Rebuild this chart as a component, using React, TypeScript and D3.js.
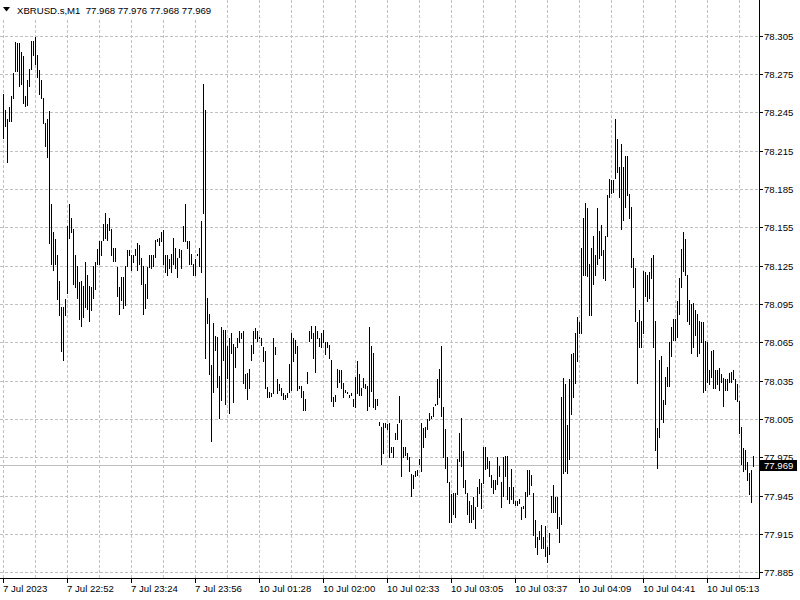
import React from 'react';
import * as d3 from 'd3';

const symbolTitle = 'XBRUSD.s,M1';
const lastOHLC = ['77.968', '77.976', '77.968', '77.969'];
const lastPrice = 77.969;

const priceTicks = [78.305, 78.275, 78.245, 78.215, 78.185, 78.155, 78.125, 78.095, 78.065, 78.035, 78.005, 77.975, 77.945, 77.915, 77.885];

const timeLabels = ['7 Jul 2023', '7 Jul 22:52', '7 Jul 23:24', '7 Jul 23:56', '10 Jul 01:28', '10 Jul 02:00', '10 Jul 02:33', '10 Jul 03:05', '10 Jul 03:37', '10 Jul 04:09', '10 Jul 04:41', '10 Jul 05:13'];

const highs = [
  78.259, 78.247, 78.240, 78.249, 78.258, 78.276, 78.300, 78.299, 78.299, 78.292,
  78.289, 78.258, 78.270, 78.279, 78.301, 78.301, 78.304, 78.290, 78.278, 78.270,
  78.256, 78.237, 78.240, 78.246, 78.173, 78.151, 78.146, 78.133, 78.113, 78.093,
  78.093, 78.099, 78.156, 78.173, 78.162, 78.154, 78.133, 78.125, 78.112, 78.113,
  78.109, 78.128, 78.118, 78.109, 78.108, 78.125, 78.128, 78.138, 78.144, 78.144,
  78.158, 78.166, 78.158, 78.162, 78.154, 78.139, 78.139, 78.124, 78.108, 78.116,
  78.116, 78.125, 78.137, 78.137, 78.133, 78.133, 78.138, 78.143, 78.141, 78.131,
  78.125, 78.111, 78.124, 78.133, 78.133, 78.133, 78.145, 78.146, 78.147, 78.151,
  78.153, 78.133, 78.133, 78.130, 78.134, 78.147, 78.139, 78.131, 78.138, 78.137,
  78.156, 78.173, 78.144, 78.144, 78.134, 78.126, 78.130, 78.134, 78.139, 78.160,
  78.267, 78.247, 78.100, 78.087, 78.047, 78.080, 78.070, 78.069, 78.039, 78.077,
  78.075, 78.075, 78.062, 78.068, 78.072, 78.064, 78.061, 78.068, 78.074, 78.072,
  78.074, 78.040, 78.041, 78.044, 78.063, 78.074, 78.076, 78.074, 78.069, 78.068,
  78.061, 78.058, 78.030, 78.026, 78.025, 78.068, 78.061, 78.036, 78.032, 78.029,
  78.025, 78.024, 78.025, 78.048, 78.072, 78.068, 78.067, 78.062, 78.031, 78.031,
  78.027, 78.021, 78.042, 78.074, 78.078, 78.072, 78.078, 78.074, 78.068, 78.072,
  78.075, 78.065, 78.065, 78.063, 78.051, 78.022, 78.024, 78.044, 78.043, 78.043,
  78.033, 78.028, 78.026, 78.024, 78.025, 78.021, 78.038, 78.050, 78.040, 78.029,
  78.037, 78.032, 78.031, 78.077, 78.062, 78.057, 78.021, 78.021, 78.003, 77.999,
  78.002, 78.002, 78.001, 78.002, 77.983, 77.983, 77.994, 78.001, 78.023, 78.004,
  77.983, 77.983, 77.978, 77.975, 77.962, 77.961, 77.964, 77.965, 77.974, 78.002,
  77.998, 77.999, 78.005, 78.010, 78.007, 78.014, 78.017, 78.036, 78.044, 78.062,
  78.014, 77.997, 77.975, 77.956, 77.946, 77.947, 77.947, 77.974, 77.994, 78.006,
  77.980, 77.957, 77.947, 77.941, 77.938, 77.944, 77.936, 77.952, 77.958, 77.955,
  77.983, 77.983, 77.975, 77.972, 77.961, 77.957, 77.957, 77.975, 77.968, 77.956,
  77.975, 77.976, 77.976, 77.952, 77.966, 77.952, 77.941, 77.941, 77.942, 77.936,
  77.937, 77.948, 77.965, 77.965, 77.961, 77.947, 77.926, 77.913, 77.917, 77.922,
  77.913, 77.921, 77.905, 77.916, 77.945, 77.953, 77.944, 77.944, 77.928, 78.022,
  78.037, 78.032, 78.000, 78.036, 78.056, 78.057, 78.072, 78.085, 78.081, 78.139,
  78.162, 78.174, 78.170, 78.126, 78.139, 78.148, 78.133, 78.170, 78.152, 78.157,
  78.137, 78.148, 78.180, 78.193, 78.192, 78.192, 78.240, 78.224, 78.202, 78.220,
  78.202, 78.211, 78.211, 78.181, 78.171, 78.131, 78.123, 78.081, 78.090, 78.082,
  78.121, 78.120, 78.118, 78.120, 78.131, 78.133, 78.082, 77.998, 78.051, 78.054,
  78.020, 78.038, 78.046, 78.065, 78.077, 78.083, 78.083, 78.097, 78.115, 78.138,
  78.151, 78.146, 78.118, 78.098, 78.095, 78.096, 78.090, 78.087, 78.082, 78.081,
  78.081, 78.066, 78.065, 78.043, 78.058, 78.059, 78.043, 78.043, 78.045, 78.040,
  78.037, 78.036, 78.036, 78.041, 78.042, 78.043, 78.036, 78.032, 78.019, 77.999,
  77.982, 77.981, 77.971, 77.963, 77.965, 77.976,
];

const lows = [
  78.225, 78.234, 78.206, 78.238, 78.238, 78.256, 78.277, 78.277, 78.266, 78.267,
  78.252, 78.250, 78.251, 78.266, 78.279, 78.290, 78.283, 78.273, 78.259, 78.256,
  78.237, 78.219, 78.210, 78.143, 78.126, 78.122, 78.126, 78.099, 78.086, 78.058,
  78.051, 78.086, 78.104, 78.147, 78.151, 78.111, 78.108, 78.100, 78.083, 78.078,
  78.085, 78.093, 78.091, 78.082, 78.090, 78.100, 78.107, 78.126, 78.126, 78.133,
  78.145, 78.147, 78.145, 78.153, 78.133, 78.129, 78.129, 78.101, 78.087, 78.098,
  78.092, 78.094, 78.125, 78.133, 78.122, 78.128, 78.133, 78.122, 78.126, 78.111,
  78.087, 78.092, 78.100, 78.124, 78.123, 78.125, 78.132, 78.144, 78.141, 78.144,
  78.126, 78.120, 78.118, 78.123, 78.120, 78.126, 78.123, 78.116, 78.132, 78.123,
  78.144, 78.144, 78.139, 78.126, 78.126, 78.118, 78.118, 78.133, 78.125, 78.120,
  78.166, 78.053, 78.080, 78.040, 77.988, 78.026, 78.059, 78.030, 78.006, 78.020,
  78.051, 78.017, 78.037, 78.010, 78.057, 78.018, 78.046, 78.061, 78.065, 78.068,
  78.033, 78.029, 78.021, 78.029, 78.051, 78.057, 78.068, 78.066, 78.068, 78.063,
  78.050, 78.029, 78.022, 78.022, 78.023, 78.025, 78.056, 78.025, 78.028, 78.024,
  78.021, 78.021, 78.022, 78.026, 78.028, 78.050, 78.057, 78.028, 78.029, 78.022,
  78.012, 78.012, 78.033, 78.066, 78.068, 78.053, 78.042, 78.068, 78.062, 78.061,
  78.065, 78.056, 78.061, 78.053, 78.019, 78.015, 78.019, 78.030, 78.034, 78.029,
  78.022, 78.026, 78.025, 78.022, 78.024, 78.015, 78.014, 78.025, 78.024, 78.024,
  78.030, 78.029, 78.012, 78.015, 78.027, 78.014, 78.013, 78.016, 78.000, 77.970,
  77.978, 77.999, 77.997, 77.975, 77.979, 77.975, 77.989, 77.989, 78.003, 77.960,
  77.975, 77.977, 77.974, 77.964, 77.945, 77.951, 77.960, 77.961, 77.970, 77.964,
  77.983, 77.991, 77.997, 78.004, 78.006, 78.007, 78.016, 78.017, 78.022, 78.007,
  77.975, 77.967, 77.956, 77.924, 77.924, 77.931, 77.928, 77.946, 77.972, 77.968,
  77.952, 77.947, 77.931, 77.924, 77.924, 77.927, 77.920, 77.937, 77.947, 77.935,
  77.955, 77.966, 77.967, 77.960, 77.952, 77.947, 77.950, 77.954, 77.960, 77.936,
  77.945, 77.960, 77.942, 77.939, 77.942, 77.939, 77.938, 77.938, 77.939, 77.927,
  77.935, 77.928, 77.945, 77.946, 77.953, 77.914, 77.905, 77.899, 77.911, 77.904,
  77.904, 77.898, 77.893, 77.899, 77.932, 77.932, 77.932, 77.920, 77.909, 77.923,
  77.963, 77.964, 77.963, 77.974, 78.009, 78.022, 78.033, 78.050, 78.072, 78.072,
  78.118, 78.118, 78.117, 78.086, 78.086, 78.111, 78.118, 78.126, 78.131, 78.133,
  78.115, 78.114, 78.148, 78.179, 78.182, 78.183, 78.194, 78.198, 78.179, 78.154,
  78.161, 78.171, 78.180, 78.162, 78.124, 78.108, 78.082, 78.033, 78.061, 78.061,
  78.072, 78.101, 78.097, 78.100, 78.115, 78.061, 77.981, 77.967, 77.991, 78.005,
  78.003, 78.017, 78.031, 78.031, 78.054, 78.067, 78.067, 78.069, 78.087, 78.108,
  78.121, 78.118, 78.082, 78.079, 78.057, 78.061, 78.071, 78.054, 78.057, 78.065,
  78.026, 78.028, 78.034, 78.032, 78.038, 78.029, 78.029, 78.032, 78.028, 78.034,
  78.015, 78.028, 78.028, 78.034, 78.034, 78.036, 78.021, 78.019, 77.994, 77.970,
  77.964, 77.966, 77.957, 77.946, 77.940, 77.968,
];

const FONT = '"Liberation Sans", Arial, sans-serif';

export default function App() {
  const W = 800;
  const H = 600;
  const plotRight = 759;
  const plotBottom = 578;
  const n = highs.length;

  const y = d3.scaleLinear().domain([77.885, 78.305]).range([572.3, 35.7]);
  const x = d3.scaleLinear().domain([0, n - 1]).range([3, 3 + 2 * (n - 1)]);

  const gridIdx = d3.range(0, n, 16);
  const labelIdx = d3.range(0, n, 32);
  const grid = '#c0c0c0';

  const lastY = Math.round(y(lastPrice));

  return (
    <svg
      width={W}
      height={H}
      style={{ position: 'absolute', left: 0, top: 0, background: '#fff' }}
      fontFamily={FONT}
    >
      <rect x={0} y={0} width={W} height={H} fill="#fff" />
      {/* grid */}
      <g shapeRendering="crispEdges" stroke={grid} strokeWidth={1} strokeDasharray="3,2">
        {priceTicks.map((t) => (
          <line key={'h' + t} x1={0} x2={plotRight} y1={Math.round(y(t)) + 0.5} y2={Math.round(y(t)) + 0.5} />
        ))}
        {gridIdx.map((i) => (
          <line key={'v' + i} x1={x(i) + 0.5} x2={x(i) + 0.5} y1={0} y2={plotBottom} />
        ))}
      </g>
      {/* current price line */}
      <line x1={0} x2={plotRight} y1={lastY + 0.5} y2={lastY + 0.5} stroke={grid} strokeWidth={1} shapeRendering="crispEdges" />
      {/* bars */}
      <g fill="#000" shapeRendering="crispEdges">
        {highs.map((h, i) => {
          const yh = Math.round(y(h));
          const yl = Math.round(y(lows[i]));
          return <rect key={i} x={Math.round(x(i))} y={yh} width={1} height={Math.max(1, yl - yh + 1)} />;
        })}
      </g>
      {/* title */}
      <rect x={0} y={0} width={207} height={19} fill="#fff" />
      <path d="M3,7 L10,7 L6.5,11.5 Z" fill="#000" />
      <text x={17} y={13.5} fontSize={9.6} fill="#000">
        {symbolTitle + '\u00a0\u00a0' + lastOHLC.join(' ')}
      </text>
      {/* axes */}
      <g stroke="#000" strokeWidth={1} shapeRendering="crispEdges">
        <line x1={plotRight + 0.5} x2={plotRight + 0.5} y1={0} y2={plotBottom + 1} />
        <line x1={0} x2={plotRight + 1} y1={plotBottom + 0.5} y2={plotBottom + 0.5} />
        {priceTicks.map((t) => (
          <line key={'pt' + t} x1={plotRight} x2={plotRight + 4} y1={Math.round(y(t)) + 0.5} y2={Math.round(y(t)) + 0.5} />
        ))}
        {labelIdx.map((i) => (
          <line key={'tt' + i} x1={x(i) + 0.5} x2={x(i) + 0.5} y1={plotBottom} y2={plotBottom + 5} />
        ))}
      </g>
      <g fontSize={9.6} fill="#000">
        {priceTicks.map((t) => (
          <text key={'pl' + t} x={764} y={Math.round(y(t)) + 4}>
            {t.toFixed(3)}
          </text>
        ))}
        {labelIdx.map((i, k) => (
          <text key={'tl' + i} x={x(i)} y={592}>
            {timeLabels[k]}
          </text>
        ))}
      </g>
      {/* current price label */}
      <rect x={760} y={lastY - 5} width={37} height={11} fill="#000" />
      <text x={764} y={lastY + 4} fontSize={9.6} fill="#fff">
        {lastPrice.toFixed(3)}
      </text>
    </svg>
  );
}
